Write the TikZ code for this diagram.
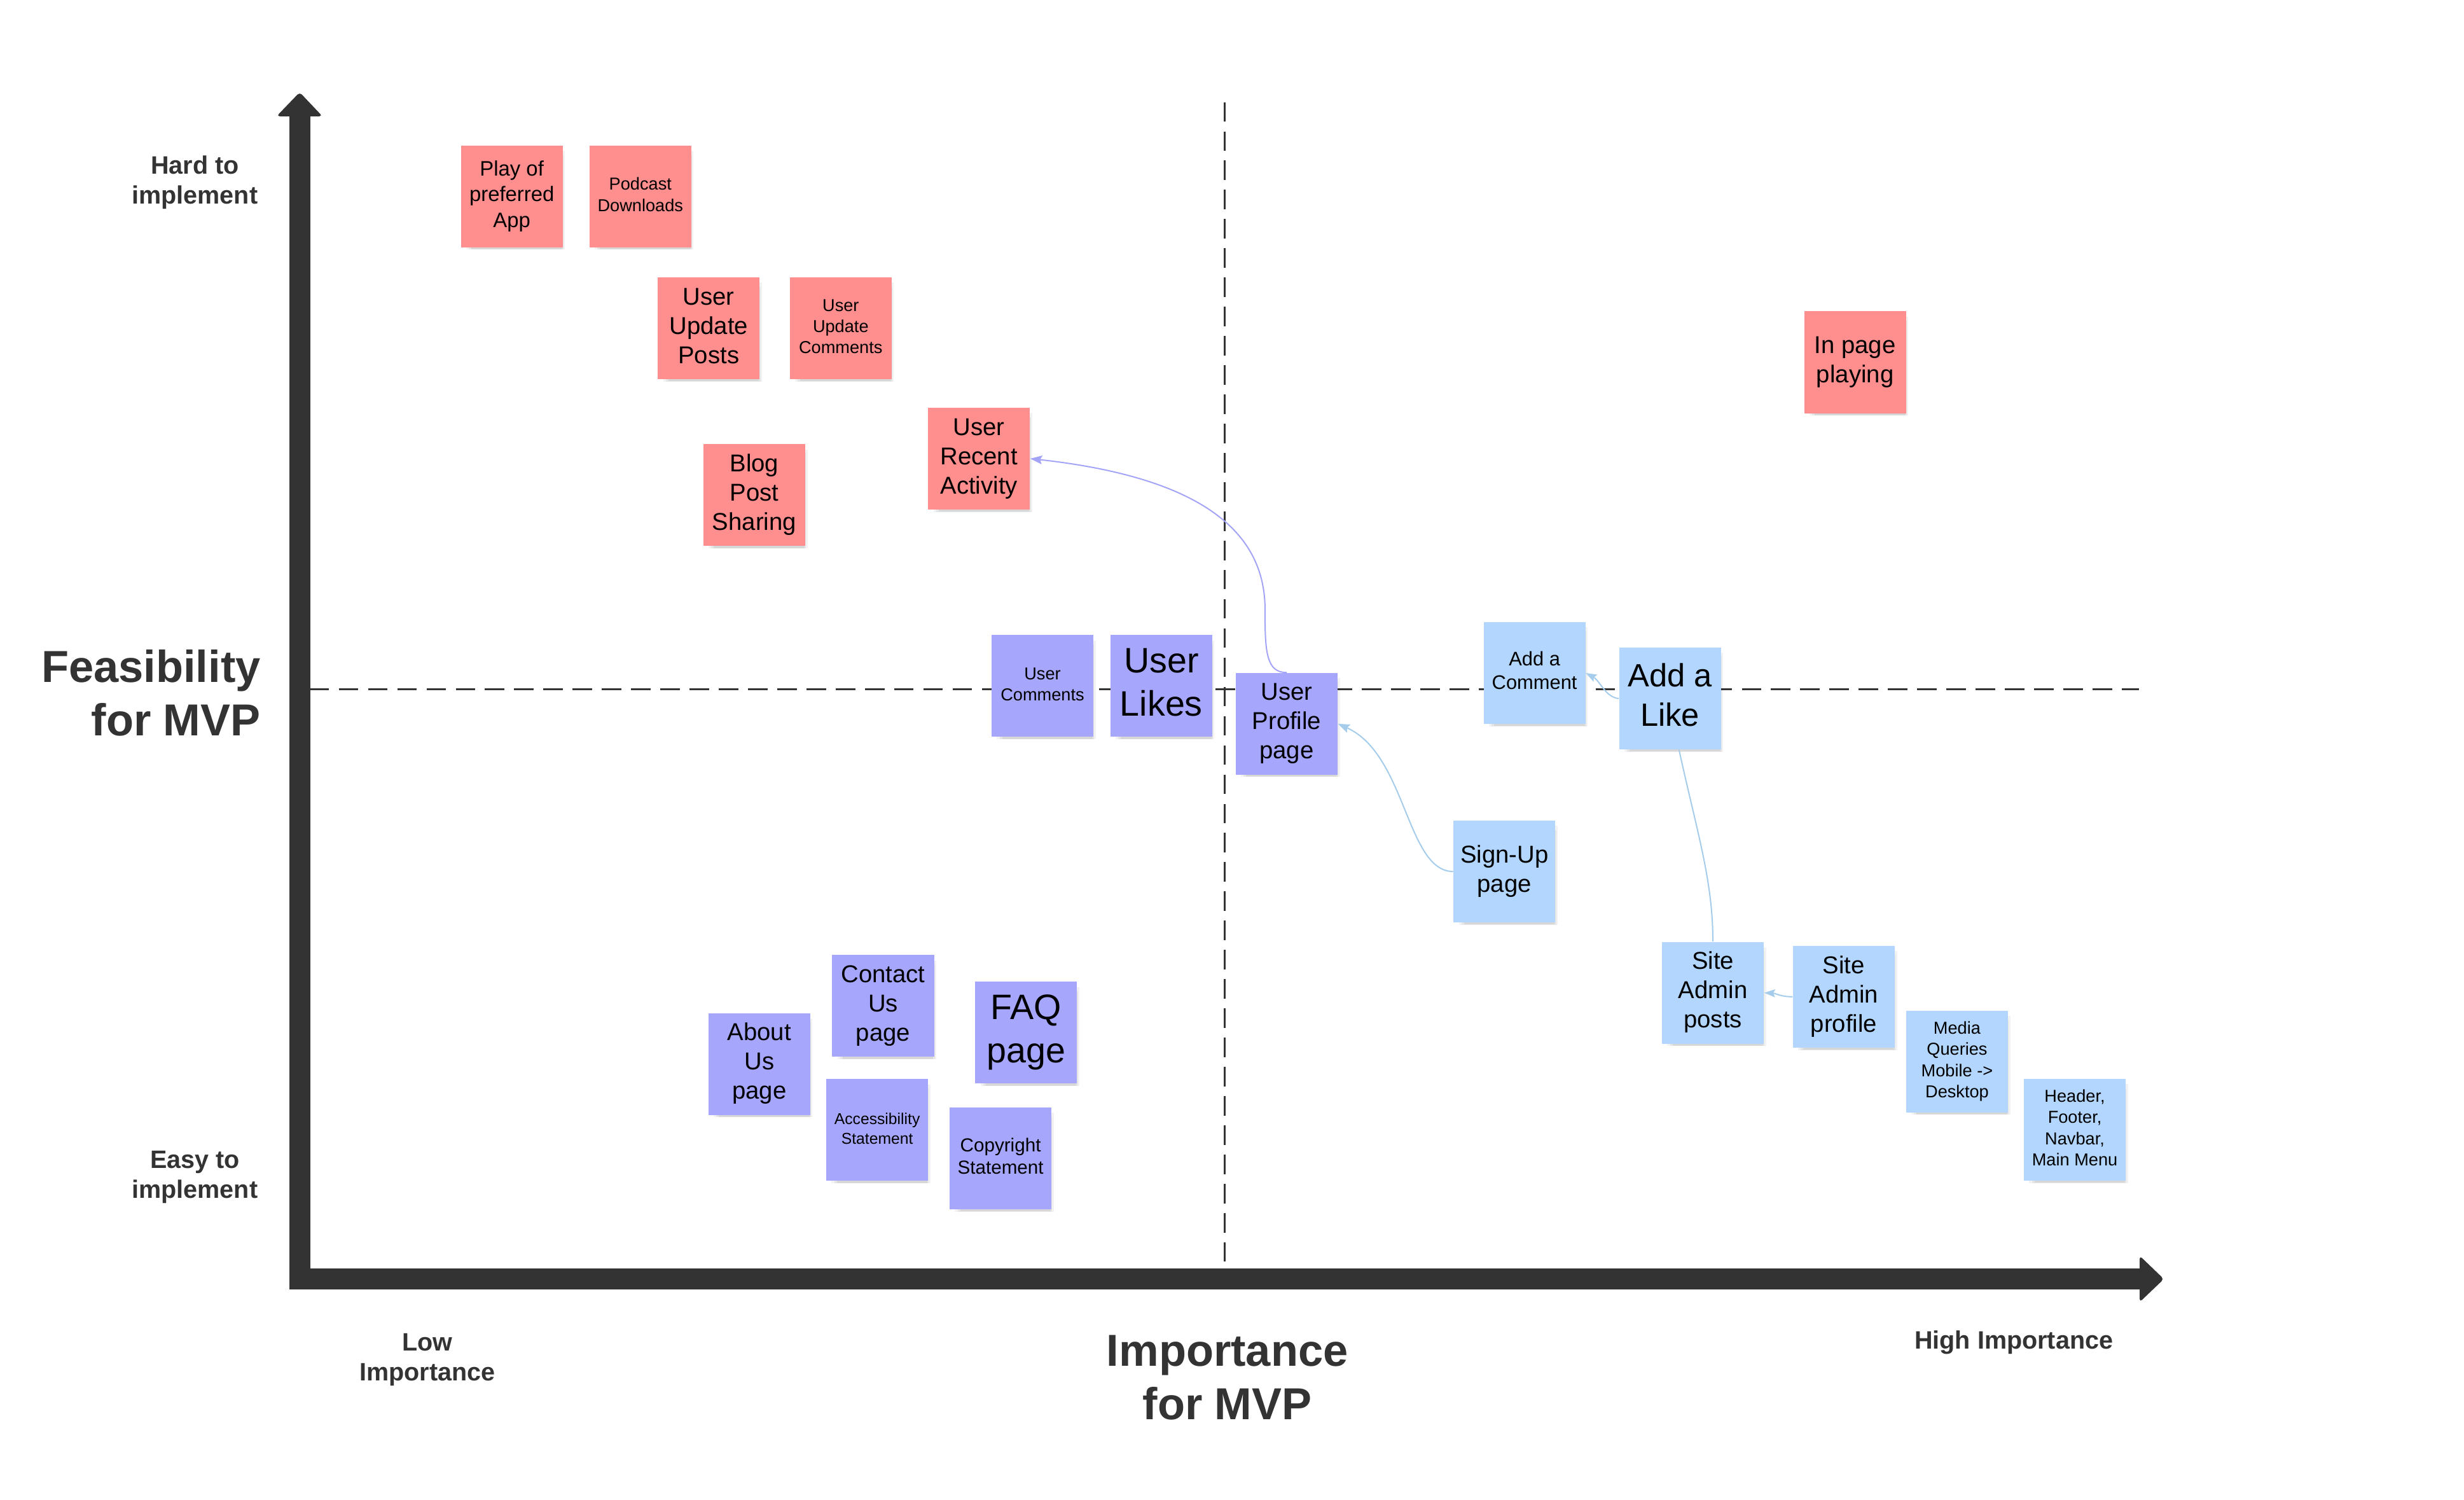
\documentclass[tikz,border=0pt]{standalone}
\usepackage{fontspec}
\setmainfont{Liberation Sans}
\usetikzlibrary{arrows.meta,shadows}
\definecolor{axis}{HTML}{333333}
\definecolor{pinknote}{HTML}{FF8F8F}
\definecolor{purplenote}{HTML}{A6A6FC}
\definecolor{bluenote}{HTML}{B3D6FE}
\definecolor{purpleline}{HTML}{A3A3F7}
\definecolor{blueline}{HTML}{A5CCEA}
\tikzset{
  shadowed/.style={
    general shadow={fill=black, opacity=0.05, shadow xshift=2.5pt, shadow yshift=-2.5pt, shadow scale=0.97},
    general shadow={fill=black, opacity=0.05, shadow xshift=3pt, shadow yshift=-4pt, shadow scale=0.93},
    general shadow={fill=black, opacity=0.06, shadow xshift=3.5pt, shadow yshift=-5.5pt, shadow scale=0.89}},
  note/.style={minimum width=64.8pt, minimum height=64.8pt, inner sep=0pt, align=center, text=black, shadowed},
  pinkn/.style={note, fill=pinknote},
  purpn/.style={note, fill=purplenote},
  bluen/.style={note, fill=bluenote},
  fxs/.style={font=\fontsize{10}{12.5}\selectfont},
  fs/.style={font=\fontsize{11}{13.5}\selectfont},
  fcopy/.style={font=\fontsize{12}{14.5}\selectfont},
  fsm/.style={font=\fontsize{12.5}{15}\selectfont},
  fplay/.style={font=\fontsize{13.3}{16.4}\selectfont},
  fm/.style={font=\fontsize{15.5}{18.6}\selectfont},
  fl/.style={font=\fontsize{20.5}{25}\selectfont},
  fxl/.style={font=\fontsize{22.5}{27.5}\selectfont},
  axlabel/.style={font=\bfseries\fontsize{16}{19}\selectfont, text=axis, align=center, inner sep=0pt},
  biglabel/.style={font=\bfseries\fontsize{28.5}{34}\selectfont, text=axis, inner sep=0pt},
  divider/.style={draw=axis, line width=1.3pt, dash pattern=on 12.4pt off 6.2pt},
  axisfill/.style={fill=axis, draw=none},
  conn/.style={line width=0.8pt},
}
\begin{document}
\begin{tikzpicture}[x=1pt,y=-1pt]
\useasboundingbox (0,0) rectangle (1568,954.3);
\fill[white] (0,0) rectangle (1568,954.3);

% dividers
\draw[divider] (779.3,65) -- (779.3,807);
\draw[divider] (197,438.7) -- (1361,438.7);

% axes
\fill[axisfill] (184,74) rectangle (197.5,820.5);
\fill[axisfill, rounded corners=2pt] (176,74) -- (190.7,58.7) -- (205.2,74) -- cycle;
\fill[axisfill] (184,807) rectangle (1362.5,820.5);
\fill[axisfill, rounded corners=2pt] (1361.6,799) -- (1377,813.8) -- (1361.6,828.5) -- cycle;

% axis labels
\node[axlabel] (hard) at (124,116) {Hard to\\implement};
\node[axlabel] (easy) at (124,749) {Easy to\\implement};
\node[biglabel, anchor=east, align=right] (feas) at (166,441) {Feasibility\\for MVP};
\node[biglabel, align=center] (imp) at (781,876.5) {Importance\\for MVP};
\node[axlabel] (low) at (272,865) {Low\\Importance};
\node[axlabel] (high) at (1281.5,854) {High Importance};

% pink notes
\node[pinkn, fplay] (play) at (325.7,125) {\strut Play of\\preferred\\App\strut};
\node[pinkn, fs] (podcast) at (407.5,125) {\strut Podcast\\Downloads\strut};
\node[pinkn, fm] (uposts) at (451,208.8) {\strut User\\Update\\Posts\strut};
\node[pinkn, fs] (ucomm) at (535,208.8) {\strut User\\Update\\Comments\strut};
\node[pinkn, fm] (blog) at (480,315) {\strut Blog\\Post\\Sharing\strut};
\node[pinkn, fm] (recent) at (623,291.8) {\strut User\\Recent\\Activity\strut};
\node[pinkn, fm] (inpage) at (1180.5,230.5) {\strut In page\\playing\strut};

% purple notes
\node[purpn, fs] (usercomm) at (663.4,436.4) {\strut User\\Comments\strut};
\node[purpn, fxl] (likes) at (739,436.4) {\strut User\\Likes\strut};
\node[purpn, fm] (prof) at (818.8,460.5) {\strut User\\Profile\\page\strut};
\node[purpn, fm] (contact) at (562,640) {\strut Contact\\Us\\page\strut};
\node[purpn, fm] (about) at (483.2,677) {\strut About\\Us\\page\strut};
\node[purpn, fxl] (faq) at (653,657) {\strut FAQ\\page\strut};
\node[purpn, fxs] (access) at (558.2,719) {\strut Accessibility\\Statement\strut};
\node[purpn, fcopy] (copy) at (636.7,737) {\strut Copyright\\Statement\strut};

% blue notes
\node[bluen, fsm] (comment) at (976.5,428.2) {\strut Add a\\Comment\strut};
\node[bluen, fl] (like) at (1062.7,444.4) {\strut Add a\\Like\strut};
\node[bluen, fm] (signup) at (957.3,554.5) {\strut Sign-Up\\page\strut};
\node[bluen, fm] (posts) at (1090,631.7) {\strut Site\\Admin\\posts\strut};
\node[bluen, fm] (adminprof) at (1173.3,634.2) {\strut Site\\Admin\\profile\strut};
\node[bluen, fs] (media) at (1245.4,675.4) {\strut Media\\Queries\\Mobile ->\\Desktop\strut};
\node[bluen, fs] (header) at (1320.3,718.8) {\strut Header,\\Footer,\\Navbar,\\Main Menu\strut};

% connectors
\draw[conn, draw=purpleline, -{Stealth[length=7.5pt,width=5.5pt,inset=1.2pt,fill=purpleline]}]
  (prof.north) .. controls (806,428) and (805,415) .. (805,390)
  .. controls (806,345) and (775,305) .. (recent.east);
\draw[conn, draw=blueline, -{Stealth[length=7.5pt,width=5.5pt,inset=1.2pt,fill=blueline]}]
  (signup.west) .. controls (895,554.5) and (895,480) .. (prof.east);
\draw[conn, draw=blueline, -{Stealth[length=7pt,width=5pt,inset=1.2pt,fill=blueline]}]
  (like.west) .. controls (1022,444) and (1018,433) .. (comment.east);
\draw[conn, draw=blueline]
  (like.-80) .. controls (1080,530) and (1090,560) .. (posts.north);
\draw[conn, draw=blueline, -{Stealth[length=7pt,width=5pt,inset=1.2pt,fill=blueline]}]
  (adminprof.west) .. controls (1133,634.2) and (1130,632) .. (posts.east);
\end{tikzpicture}
\end{document}
